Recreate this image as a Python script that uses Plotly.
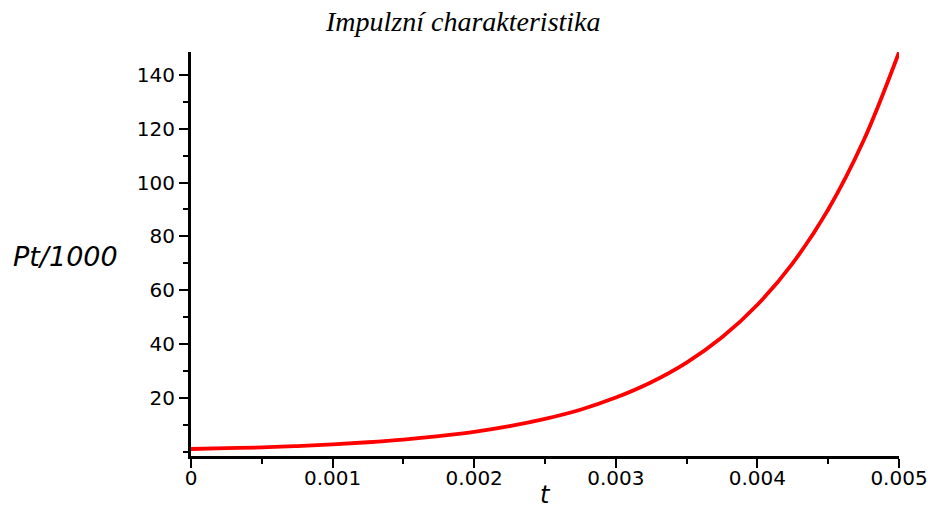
import plotly.graph_objects as go

t_vals = [0.0, 0.00025, 0.0005, 0.00075, 0.001, 0.00125, 0.0015, 0.00175, 0.002, 0.00225,
          0.0025, 0.00275, 0.003, 0.00325, 0.0035, 0.00375, 0.004, 0.00425, 0.0045, 0.00475, 0.005]
pt_vals = [1.0, 1.3, 1.6, 2.1, 2.7, 3.5, 4.5, 5.8, 7.4, 9.5,
           12.2, 15.6, 20.1, 25.8, 33.1, 42.5, 54.6, 70.1, 90.0, 115.6, 148.4]

x_ticks = [0, 0.001, 0.002, 0.003, 0.004, 0.005]
x_ticklabels = ["0", "0.001", "0.002", "0.003", "0.004", "0.005"]
y_ticks = [20, 40, 60, 80, 100, 120, 140]

title_text = "Impulzní charakteristika"
x_title = "t"
y_title = "Pt/1000"

fig = go.Figure()
fig.add_trace(go.Scatter(x=t_vals, y=pt_vals, mode="lines", line=dict(color="#ff0000", width=3.8, shape="spline"),
                         showlegend=False, hoverinfo="skip"))

tickfont = dict(family="DejaVu Sans", size=20, color="black")
L, R, T, B = 191, 29, 52, 56
PW, PH = 928 - L - R, 512 - T - B

def px(xp):
    return (xp - L) / PW

def py(yp):
    return (512 - B - yp) / PH

fig.update_layout(
    width=928, height=512,
    margin=dict(l=L, r=R, t=T, b=B),
    plot_bgcolor="white", paper_bgcolor="white",
    xaxis=dict(range=[0, 0.005], tickvals=x_ticks, ticktext=x_ticklabels, showgrid=False, zeroline=False,
               automargin=False, ticklabelstandoff=-7,
               showline=True, linecolor="black", linewidth=3, ticks="outside", ticklen=9, tickwidth=2,
               tickcolor="black", tickfont=tickfont,
               minor=dict(dtick=0.0005, ticks="outside", ticklen=5, tickwidth=2, tickcolor="black", showgrid=False)),
    yaxis=dict(range=[-1.6, 148.5], tickvals=y_ticks, showgrid=False, zeroline=False,
               automargin=False,
               showline=True, linecolor="black", linewidth=3, ticks="outside", ticklen=9, tickwidth=2,
               tickcolor="black", tickfont=tickfont,
               minor=dict(dtick=10, tick0=0, ticks="outside", ticklen=5, tickwidth=2, tickcolor="black", showgrid=False)),
)
fig.add_annotation(text="<i>" + title_text + "</i>", xref="paper", yref="paper", x=px(463), y=py(22),
                   xanchor="center", yanchor="middle",
                   showarrow=False, font=dict(family="Liberation Serif", size=28, color="black"))
fig.add_annotation(text="<i>" + y_title + "</i>", xref="paper", yref="paper", x=px(66), y=py(256),
                   xanchor="center", yanchor="middle",
                   showarrow=False, font=dict(family="DejaVu Sans", size=27, color="black"))
fig.add_annotation(text="<i>" + x_title + "</i>", xref="paper", yref="paper", x=px(545), y=py(495),
                   xanchor="center", yanchor="middle",
                   showarrow=False, font=dict(family="DejaVu Sans", size=24, color="black"))

fig.write_html("out.html")
